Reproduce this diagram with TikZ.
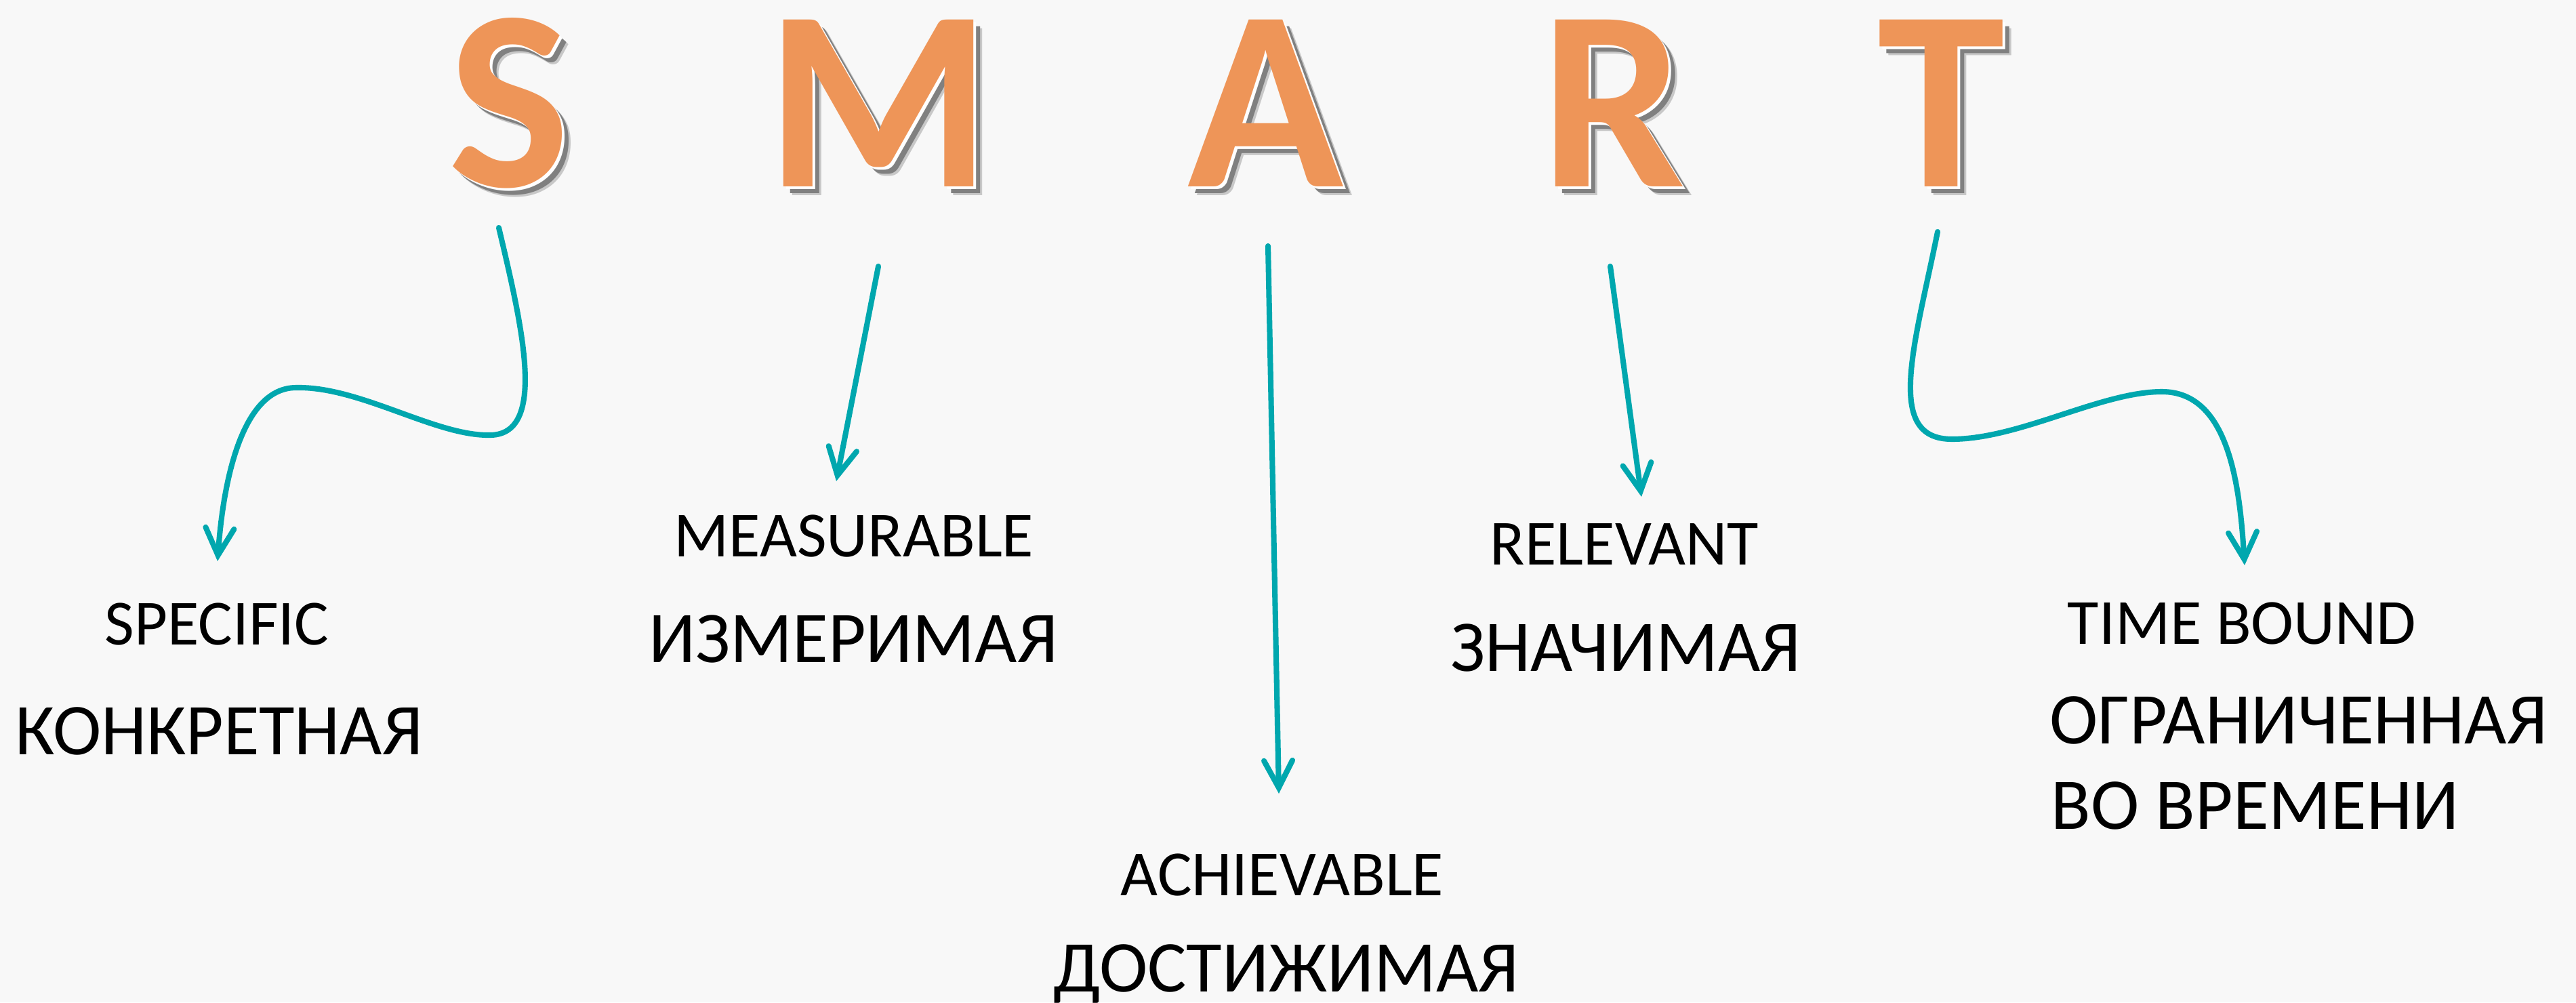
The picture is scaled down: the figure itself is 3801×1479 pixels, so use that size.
\documentclass[tikz,border=0pt]{standalone}
\usepackage{fontspec}
\setmainfont{Carlito}
\usetikzlibrary{arrows.meta}
\definecolor{bgcol}{HTML}{F8F8F8}
\definecolor{smartorange}{HTML}{EE9558}
\definecolor{arrowteal}{HTML}{00A7AE}
\newcommand\smartletter[3]{%
  \node[letter, text=black!40, opacity=0.5] at (#2+13,288) {#3};
  \node[letter, text=black!50] at (#2+10,285) {#3};
  \node[letter, text=white] at (#2+4,279) {#3};
  \node[letter, text=smartorange] (#1) at (#2,275) {#3};}
\begin{document}
\begin{tikzpicture}[x=0.01cm,y=-0.01cm,
  letter/.style={font=\fontsize{108}{108}\selectfont\bfseries, inner sep=0pt, anchor=base},
  en/.style={font=\fontsize{27}{27}\selectfont, inner sep=0pt, anchor=base},
  ru/.style={font=\fontsize{30.6}{30.6}\selectfont, inner sep=0pt, anchor=base},
  conn/.style={draw=arrowteal, line width=2.3pt, line cap=round,
    -{Straight Barb[length=4mm,width=4.2mm,line cap=round]}}]
\fill[bgcol] (0,0) rectangle (3801,1479);
\useasboundingbox (0,0) rectangle (3801,1479);
% letters
\smartletter{S}{751}{S}
\smartletter{M}{1296}{M}
\smartletter{A}{1868}{A}
\smartletter{R}{2380}{R}
\smartletter{T}{2864}{T}
% labels
\node[en] (specific) at (320,951) {SPECIFIC};
\node[ru] (konkr) at (323,1113) {КОНКРЕТНАЯ};
\node[en] (meas) at (1260,821) {MEASURABLE};
\node[ru] (izm) at (1259,977) {ИЗМЕРИМАЯ};
\node[en] (ach) at (1892,1321) {ACHIEVABLE};
\node[ru] (dost) at (1898,1463) {ДОСТИЖИМАЯ};
\node[en] (rel) at (2397,833) {RELEVANT};
\node[ru] (znach) at (2399,990) {ЗНАЧИМАЯ};
\node[en] (time) at (3308,950) {TIME BOUND};
\node[ru, anchor=base west] (ogr) at (3024,1097) {ОГРАНИЧЕННАЯ};
\node[ru, anchor=base west] (vo) at (3026,1223) {ВО ВРЕМЕНИ};
% arrow end points
\coordinate (S0) at (736,336);  \coordinate (S1) at (321,828);
\coordinate (M0) at (1296,393); \coordinate (M1) at (1234,710);
\coordinate (A0) at (1871,363); \coordinate (A1) at (1887,1171);
\coordinate (R0) at (2376,393); \coordinate (R1) at (2422,733);
\coordinate (T0) at (2859,342); \coordinate (T1) at (3312,834);
% connectors
\draw[conn] (S0) .. controls (770,480) and (810,645) .. (720,642)
  .. controls (640,642) and (530,570) .. (437,572)
  .. controls (360,572) and (330,700) .. (S1);
\draw[conn] (M0) -- (M1);
\draw[conn] (A0) -- (A1);
\draw[conn] (R0) -- (R1);
\draw[conn] (T0) .. controls (2825,510) and (2780,648) .. (2880,648)
  .. controls (2980,648) and (3100,578) .. (3190,578)
  .. controls (3290,578) and (3305,720) .. (T1);
\end{tikzpicture}
\end{document}
